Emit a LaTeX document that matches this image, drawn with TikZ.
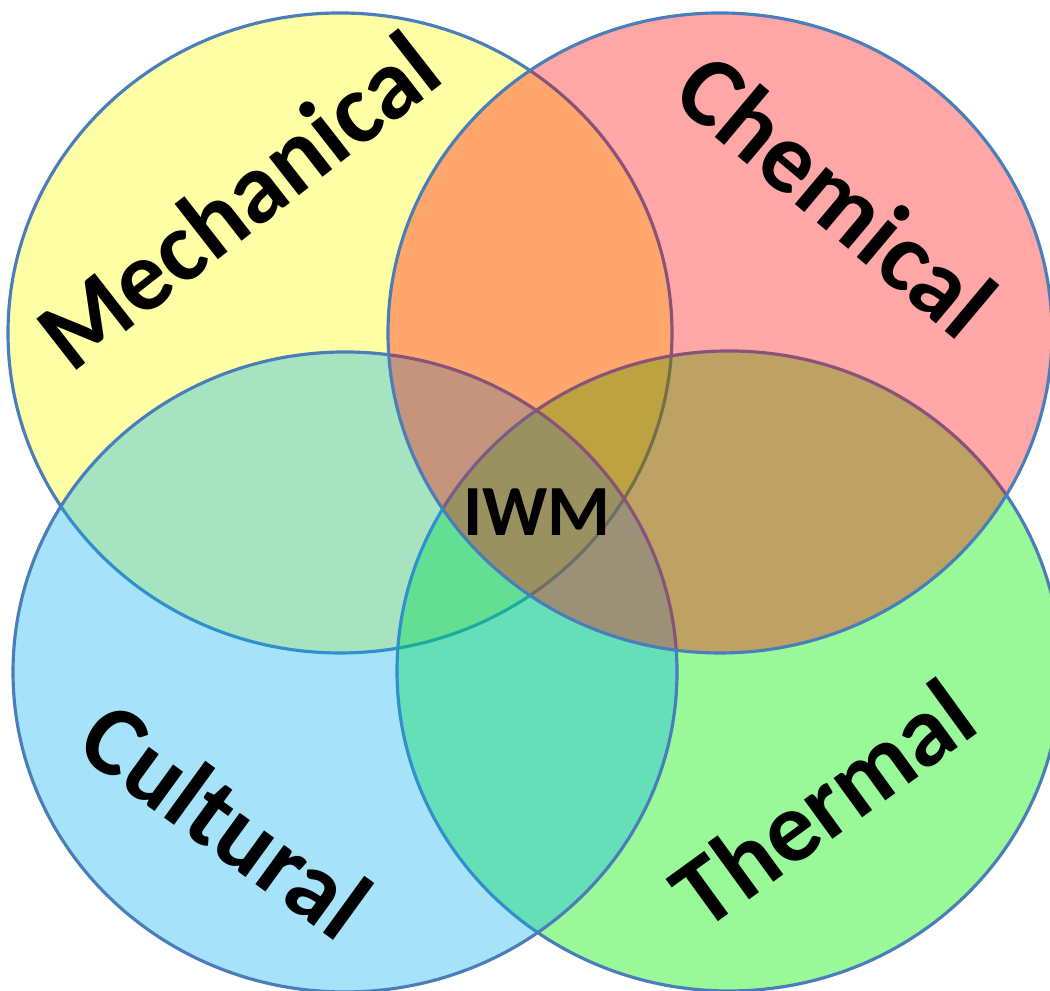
\documentclass[tikz,border=0pt]{standalone}
\usepackage{fontspec}
\setmainfont{Carlito}
\usepackage{tikz}
\usetikzlibrary{positioning}
\definecolor{Amarillo}{RGB}{255, 255, 0}
\definecolor{Verde}{RGB}{0, 240, 0}
\definecolor{Azul}{RGB}{0, 176, 240}
\definecolor{Rojo}{RGB}{255, 0, 0}
\definecolor{Borde}{RGB}{74, 126, 187}

\begin{document}
\begin{tikzpicture}[
        circulo/.style={draw=Borde, line width=0.9pt, fill opacity=0.35},
        etiqueta/.style={font=\bfseries\fontsize{28.5}{34}\selectfont, text=black, inner sep=0pt},
        centro/.style={font=\bfseries\fontsize{20.5}{24}\selectfont, text=black, inner sep=0pt}
    ]
        % Marco de la figura (1 px = 0.01 cm)
        \useasboundingbox (0,0) rectangle (10.5,9.91);
        \clip (0,0) rectangle (10.5,9.91);

        % Circulos semitransparentes (orden de dibujo: amarillo, verde, azul, rojo)
        \draw[circulo, fill=Amarillo] (3.40,6.58) ellipse (3.32 and 3.20);
        \draw[circulo, fill=Verde, fill opacity=0.4] (7.29,3.20) ellipse (3.32 and 3.20);
        \draw[circulo, fill=Azul] (3.45,3.19) ellipse (3.32 and 3.20);
        \draw[circulo, fill=Rojo] (7.20,6.58) ellipse (3.32 and 3.20);

        % Etiquetas giradas de cada circulo
        \node[etiqueta, rotate=38] (mec) at (2.38,7.91) {Mechanical};
        \node[etiqueta, rotate=-40] (quim) at (8.37,7.96) {Chemical};
        \node[etiqueta, rotate=-36] (cult) at (2.26,1.71) {Cultural};
        \node[etiqueta, rotate=36] (term) at (8.23,1.88) {Thermal};

        % Interseccion central
        \node[centro] (iwm) at (5.37,4.79) {IWM};
    \end{tikzpicture}
\end{document}
